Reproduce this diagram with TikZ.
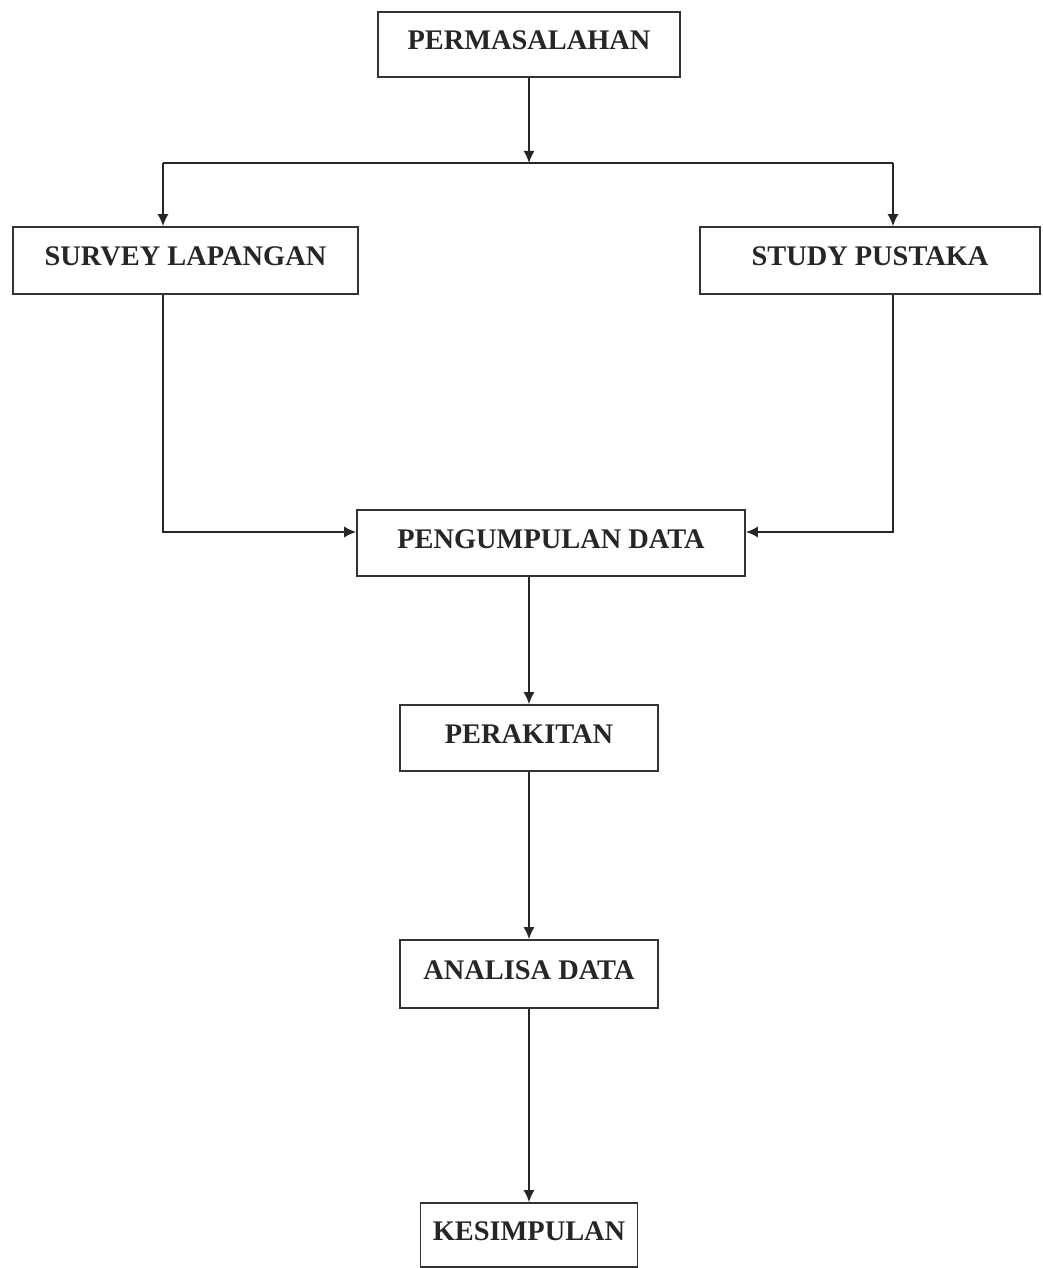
\documentclass[tikz,border=0pt]{standalone}
\usepackage{fontspec}
\setmainfont{Liberation Serif}
\usetikzlibrary{arrows.meta,calc}
\begin{document}
\begin{tikzpicture}[x=1pt,y=-1pt,
  box/.style={draw=black!80, line width=1.6pt, inner sep=0pt,
    font=\fontsize{28.4}{30}\selectfont\bfseries, text=black!85,
    text height=18.5pt, text depth=8pt},
  conn/.style={line width=1.6pt, draw=black!85},
  arr/.style={conn, -{Latex[length=12pt,width=11pt]}}]
\useasboundingbox (0,0) rectangle (1042,1268);
\node[box, minimum width=302pt, minimum height=65pt] (perm) at (529,44.5) {PERMASALAHAN};
\node[box, minimum width=345pt, minimum height=67pt] (survey) at (185.5,260.5) {SURVEY LAPANGAN};
\node[box, minimum width=340pt, minimum height=67pt] (study) at (870,260.5) {STUDY PUSTAKA};
\node[box, minimum width=388pt, minimum height=66pt] (kumpul) at (551,543) {PENGUMPULAN DATA};
\node[box, minimum width=258pt, minimum height=66pt] (rakit) at (529,738) {PERAKITAN};
\node[box, minimum width=258pt, minimum height=68pt] (analisa) at (529,974) {ANALISA DATA};
\node[box, minimum width=217pt, minimum height=64pt] (simpul) at (529,1235) {KESIMPULAN};
\coordinate (jn) at (529,163);
\coordinate (jl) at (163,163);
\coordinate (jr) at (893,163);
\coordinate (ml) at (163,532);
\coordinate (mr) at (893,532);
\draw[arr] (perm) -- (jn);
\draw[conn] (jl) -- (jr);
\draw[arr] (jl) -- (jl |- survey.north);
\draw[arr] (jr) -- (jr |- study.north);
\draw[arr] (survey.south -| ml) -- (ml) -- (ml -| kumpul.west);
\draw[arr] (study.south -| mr) -- (mr) -- (mr -| kumpul.east);
\draw[arr] (kumpul.south -| rakit.north) -- (rakit.north);
\draw[arr] (rakit) -- (analisa);
\draw[arr] (analisa) -- (simpul);
\end{tikzpicture}
\end{document}
